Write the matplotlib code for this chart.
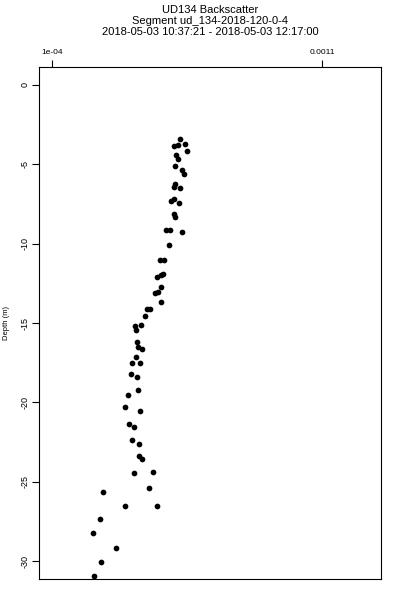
import matplotlib
matplotlib.use("Agg")
import matplotlib.pyplot as plt

# backscatter values (linear units)
backscatter = [
    0.000574, 0.000551, 0.000566, 0.000594, 0.000600, 0.000558, 0.000566,
    0.000554, 0.000581, 0.000590, 0.000554, 0.000552, 0.000573, 0.000551,
    0.000542, 0.000571, 0.000551, 0.000557, 0.000522, 0.000536, 0.000580,
    0.000533, 0.000500, 0.000515, 0.000490, 0.000503, 0.000512, 0.000504,
    0.000483, 0.000491, 0.000503, 0.000453, 0.000463, 0.000446, 0.000406,
    0.000430, 0.000410, 0.000414, 0.000417, 0.000434, 0.000411, 0.000395,
    0.000426, 0.000391, 0.000415, 0.000417, 0.000381, 0.000371, 0.000426,
    0.000386, 0.000404, 0.000397, 0.000423, 0.000422, 0.000434, 0.000404,
    0.000474, 0.000460, 0.000290, 0.000370, 0.000488, 0.000277, 0.000251,
    0.000338, 0.000283, 0.000257,
]
depth = [
    -3.41, -3.82, -3.78, -3.69, -4.18, -4.39, -4.68, -5.09, -5.36, -5.61,
    -6.22, -6.41, -6.49, -7.18, -7.31, -7.42, -8.15, -8.32, -9.12, -9.16,
    -9.26, -10.10, -11.05, -11.03, -12.08, -11.99, -11.89, -12.75, -13.13,
    -13.06, -13.67, -14.13, -14.13, -14.56, -15.19, -15.14, -15.42, -16.19,
    -16.53, -16.62, -17.16, -17.52, -17.54, -18.19, -18.42, -19.24, -19.55,
    -20.29, -20.56, -21.34, -21.57, -22.35, -22.60, -23.38, -23.55, -24.47,
    -24.40, -25.39, -25.65, -26.51, -26.55, -27.37, -28.25, -29.17, -30.06,
    -30.96,
]
title_lines = [
    "UD134 Backscatter",
    "Segment ud_134-2018-120-0-4",
    "2018-05-03 10:37:21 - 2018-05-03 12:17:00",
]
x_ticks = [1e-4, 1.1e-3]
x_tick_labels = ["1e-04", "0.0011"]
y_ticks = [0, -5, -10, -15, -20, -25, -30]

plt.rcParams["font.family"] = ["Liberation Sans", "DejaVu Sans"]

fig = plt.figure(figsize=(4, 6), dpi=100)
ax = fig.add_axes([0.0975, 0.035, 0.855, 0.8533])

ax.scatter(backscatter, depth, s=17, color="black", linewidths=0)

ax.set_xlim(5.2e-5, 1.318e-3)
ax.set_ylim(-31.13, 1.13)

ax.xaxis.tick_top()
ax.set_xticks(x_ticks, labels=x_tick_labels)
ax.set_yticks(y_ticks, labels=[str(v) for v in y_ticks])
ax.tick_params(axis="x", labelsize=6, length=5, width=0.8, pad=3)
ax.tick_params(axis="y", labelsize=6.5, length=5, width=0.8, pad=1.5,
               labelrotation=90)
for lab in ax.get_yticklabels():
    lab.set_verticalalignment("center")
for sp in ax.spines.values():
    sp.set_linewidth(0.8)

fig.text(0.016, 0.5 - (323 - 300) / 600, "Depth (m)", rotation=90,
         ha="center", va="center", fontsize=5.5)

for i, line in enumerate(title_lines):
    fig.text(0.525, 0.984 - i * 0.0185, line, ha="center", va="center",
             fontsize=8)

fig.savefig("out.png", dpi=100)
